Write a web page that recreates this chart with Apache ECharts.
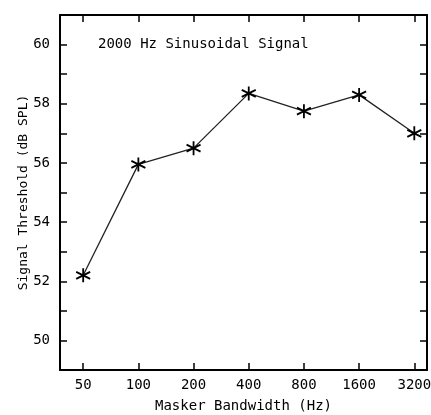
<!DOCTYPE html>
<html>
<head>
<meta charset="utf-8">
<script src="https://cdn.jsdelivr.net/npm/echarts@6/dist/echarts.min.js"></script>
<style>
  html, body { margin: 0; padding: 0; background: #fff; }
  #chart { width: 431px; height: 415px; }
</style>
</head>
<body>
<div id="chart"></div>
<script>
// Masker bandwidths (Hz), one octave apart
const bandwidths = ['50', '100', '200', '400', '800', '1600', '3200'];
// Signal threshold (dB SPL) at each bandwidth
const thresholds = [52.2, 55.95, 56.5, 58.35, 57.75, 58.3, 57.0];
// Labelled y ticks
const yLabels = [50, 52, 54, 56, 58, 60];

const FONT = '"DejaVu Sans Mono", monospace';
const ink = '#000';

// Octave index along x so bandwidths sit evenly spaced (log2 scale)
const points = thresholds.map((v, i) => [i, v]);
const xTicks = bandwidths.map((_, i) => i);

// Six-armed asterisk marker
const asterisk = 'path://M0,-10L0,10M-8.66,-5L8.66,5M-8.66,5L8.66,-5';

const chart = echarts.init(document.getElementById('chart'), null, { renderer: 'canvas' });

const xBase = {
  type: 'value',
  min: -0.42,
  max: 6.23,
  splitLine: { show: false },
  axisLine: { show: true, onZero: false, lineStyle: { color: ink, width: 2 } },
  axisTick: { show: true, inside: true, length: 7, customValues: xTicks, lineStyle: { color: ink, width: 1.5 } }
};
const yBase = {
  type: 'value',
  min: 49,
  max: 61,
  interval: 1,
  splitLine: { show: false },
  axisLine: { show: true, onZero: false, lineStyle: { color: ink, width: 2 } },
  axisTick: { show: true, inside: true, length: 7, lineStyle: { color: ink, width: 1.5 } }
};

chart.setOption({
  animation: false,
  backgroundColor: '#fff',
  title: {
    text: '2000 Hz Sinusoidal Signal',
    left: 93,
    top: 32,
    textStyle: { fontFamily: FONT, fontSize: 14, fontWeight: 'normal', color: ink }
  },
  grid: { left: 60, right: 4, top: 15, bottom: 45, outerBoundsMode: 'none', containLabel: false },
  xAxis: [
    Object.assign({}, xBase, {
      position: 'bottom',
      name: 'Masker Bandwidth (Hz)',
      nameLocation: 'middle',
      nameGap: 29,
      nameMoveOverlap: false,
      nameTextStyle: { fontFamily: FONT, fontSize: 14, color: ink },
      axisLabel: {
        show: true,
        customValues: xTicks,
        formatter: v => bandwidths[Math.round(v)],
        margin: 8,
        fontFamily: FONT, fontSize: 14, color: ink
      }
    }),
    Object.assign({}, xBase, {
      position: 'top',
      axisLabel: { show: false }
    })
  ],
  yAxis: [
    Object.assign({}, yBase, {
      position: 'left',
      name: 'Signal Threshold (dB SPL)',
      nameLocation: 'middle',
      nameGap: 30,
      nameMoveOverlap: false,
      nameTextStyle: { fontFamily: FONT, fontSize: 13, color: ink },
      axisLabel: {
        show: true,
        customValues: yLabels,
        margin: 10,
        fontFamily: FONT, fontSize: 14, color: ink
      }
    }),
    Object.assign({}, yBase, {
      position: 'right',
      axisLabel: { show: false }
    })
  ],
  series: [{
    type: 'line',
    data: points,
    xAxisIndex: 0,
    yAxisIndex: 0,
    symbol: asterisk,
    symbolSize: 14,
    showAllSymbol: true,
    lineStyle: { color: '#222', width: 1.3 },
    itemStyle: { color: 'transparent', borderColor: ink, borderWidth: 1.8 }
  }]
});
</script>
</body>
</html>
